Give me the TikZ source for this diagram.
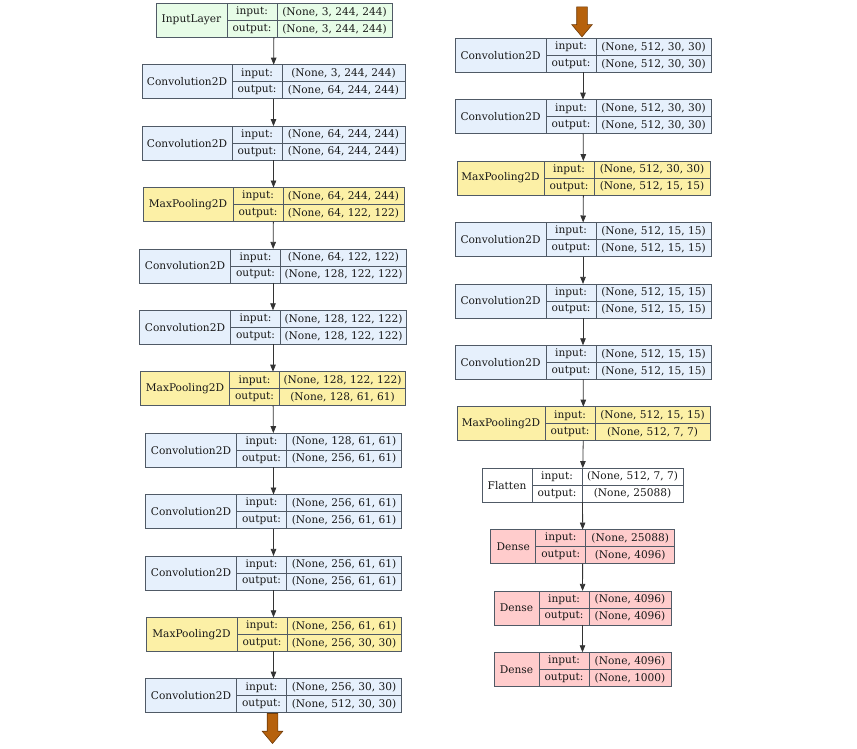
\documentclass[tikz,border=0pt]{standalone}
\usepackage{fontspec}
\setmainfont{DejaVu Serif}
\usepackage{tikz}
\usepackage{xcolor}
\usetikzlibrary{arrows.meta,shapes.arrows}

\definecolor{inputfill}{RGB}{231,252,231}
\definecolor{convfill}{RGB}{230,240,252}
\definecolor{poolfill}{RGB}{252,240,166}
\definecolor{densefill}{RGB}{255,204,204}
\definecolor{edgegray}{RGB}{80,90,102}
\definecolor{arrowbrown}{RGB}{182,97,12}
\definecolor{arrowedge}{RGB}{110,58,8}

% one keras layer: id, centre, name, fill, name width, value width, input, output
\newcommand{\layerbox}[8]{%
  \node [record, fill=#4, minimum width={#5+50+#6}] (#1) at (#2) {};
  \node [cell, minimum width=#5, minimum height=34, anchor=west] (#1n) at (#1.west) {#3};
  \node [cell, minimum width=50, anchor=north west] (#1i) at (#1n.north east) {input:};
  \node [cell, minimum width=50, anchor=north west] (#1o) at (#1i.south west) {output:};
  \node [cell, minimum width=#6, anchor=north west] (#1iv) at (#1i.north east) {#7};
  \node [cell, minimum width=#6, anchor=north west] (#1ov) at (#1o.north east) {#8};
}

\begin{document}
\begin{tikzpicture}[x=1pt, y=-1pt,
    record/.style={draw=edgegray, line width=0.8pt, minimum height=34, inner sep=0pt, outer sep=0pt},
    cell/.style={draw=edgegray, line width=0.8pt, minimum height=17, inner sep=0pt, outer sep=0pt,
      text=black!90, font=\fontsize{10.6}{12}\selectfont},
    flow/.style={draw=black!80, line width=0.8pt, -{Triangle[length=7pt, width=5.5pt]}},
    bigarrow/.style={single arrow, rotate=-90, fill=arrowbrown, draw=arrowedge, line width=0.6pt,
      minimum width=20pt, minimum height=30pt, inner xsep=0pt, inner ysep=5pt,
      single arrow head extend=5pt, single arrow tip angle=80}]
  \useasboundingbox (0,0) rectangle (857,748);
  % left column
  \layerbox{l1}{274,20.3}{InputLayer}{inputfill}{71}{115}{(None, 3, 244, 244)}{(None, 3, 244, 244)}
  \layerbox{l2}{273.5,81.7}{Convolution2D}{convfill}{90}{123}{(None, 3, 244, 244)}{(None, 64, 244, 244)}
  \layerbox{l3}{273.5,143.1}{Convolution2D}{convfill}{90}{123}{(None, 64, 244, 244)}{(None, 64, 244, 244)}
  \layerbox{l4}{273.5,204.5}{MaxPooling2D}{poolfill}{90}{121}{(None, 64, 244, 244)}{(None, 64, 122, 122)}
  \layerbox{l5}{273,265.9}{Convolution2D}{convfill}{91}{126}{(None, 64, 122, 122)}{(None, 128, 122, 122)}
  \layerbox{l6}{273,327.3}{Convolution2D}{convfill}{91}{126}{(None, 128, 122, 122)}{(None, 128, 122, 122)}
  \layerbox{l7}{273,388.7}{MaxPooling2D}{poolfill}{89}{126}{(None, 128, 122, 122)}{(None, 128, 61, 61)}
  \layerbox{l8}{273.5,450.1}{Convolution2D}{convfill}{91}{115}{(None, 128, 61, 61)}{(None, 256, 61, 61)}
  \layerbox{l9}{273.5,511.5}{Convolution2D}{convfill}{91}{115}{(None, 256, 61, 61)}{(None, 256, 61, 61)}
  \layerbox{l10}{273.5,572.9}{Convolution2D}{convfill}{91}{115}{(None, 256, 61, 61)}{(None, 256, 61, 61)}
  \layerbox{l11}{273.5,634.3}{MaxPooling2D}{poolfill}{91}{114}{(None, 256, 61, 61)}{(None, 256, 30, 30)}
  \layerbox{l12}{273.5,695.7}{Convolution2D}{convfill}{91}{115}{(None, 256, 30, 30)}{(None, 512, 30, 30)}
  % right column
  \layerbox{r1}{583,55.3}{Convolution2D}{convfill}{91}{115}{(None, 512, 30, 30)}{(None, 512, 30, 30)}
  \layerbox{r2}{583,116.7}{Convolution2D}{convfill}{91}{115}{(None, 512, 30, 30)}{(None, 512, 30, 30)}
  \layerbox{r3}{583.5,178.1}{MaxPooling2D}{poolfill}{87}{116}{(None, 512, 30, 30)}{(None, 512, 15, 15)}
  \layerbox{r4}{583,239.5}{Convolution2D}{convfill}{91}{115}{(None, 512, 15, 15)}{(None, 512, 15, 15)}
  \layerbox{r5}{583,300.9}{Convolution2D}{convfill}{91}{115}{(None, 512, 15, 15)}{(None, 512, 15, 15)}
  \layerbox{r6}{583,362.3}{Convolution2D}{convfill}{91}{115}{(None, 512, 15, 15)}{(None, 512, 15, 15)}
  \layerbox{r7}{583.5,423.7}{MaxPooling2D}{poolfill}{88}{115}{(None, 512, 15, 15)}{(None, 512, 7, 7)}
  \layerbox{r8}{582.5,485.1}{Flatten}{white}{50}{101}{(None, 512, 7, 7)}{(None, 25088)}
  \layerbox{r9}{582.7,546.5}{Dense}{densefill}{45}{89}{(None, 25088)}{(None, 4096)}
  \layerbox{r10}{582.5,607.9}{Dense}{densefill}{45}{82}{(None, 4096)}{(None, 4096)}
  \layerbox{r11}{582.5,669.3}{Dense}{densefill}{45}{82}{(None, 4096)}{(None, 1000)}
  % connectors
  \draw [flow] (l1) -- (l2);
  \draw [flow] (l2) -- (l3);
  \draw [flow] (l3) -- (l4);
  \draw [flow] (l4) -- (l5);
  \draw [flow] (l5) -- (l6);
  \draw [flow] (l6) -- (l7);
  \draw [flow] (l7) -- (l8);
  \draw [flow] (l8) -- (l9);
  \draw [flow] (l9) -- (l10);
  \draw [flow] (l10) -- (l11);
  \draw [flow] (l11) -- (l12);
  \draw [flow] (r1) -- (r2);
  \draw [flow] (r2) -- (r3);
  \draw [flow] (r3) -- (r4);
  \draw [flow] (r4) -- (r5);
  \draw [flow] (r5) -- (r6);
  \draw [flow] (r6) -- (r7);
  \draw [flow] (r7) -- (r8);
  \draw [flow] (r8) -- (r9);
  \draw [flow] (r9) -- (r10);
  \draw [flow] (r10) -- (r11);
  % continuation arrows
  \node [bigarrow, anchor=tail] (cont) at ([xshift=-1pt, yshift=-0.5pt]l12.south) {};
  \node [bigarrow, anchor=tip] (resume) at ([xshift=-1pt, yshift=1pt]r1.north) {};
\end{tikzpicture}
\end{document}
